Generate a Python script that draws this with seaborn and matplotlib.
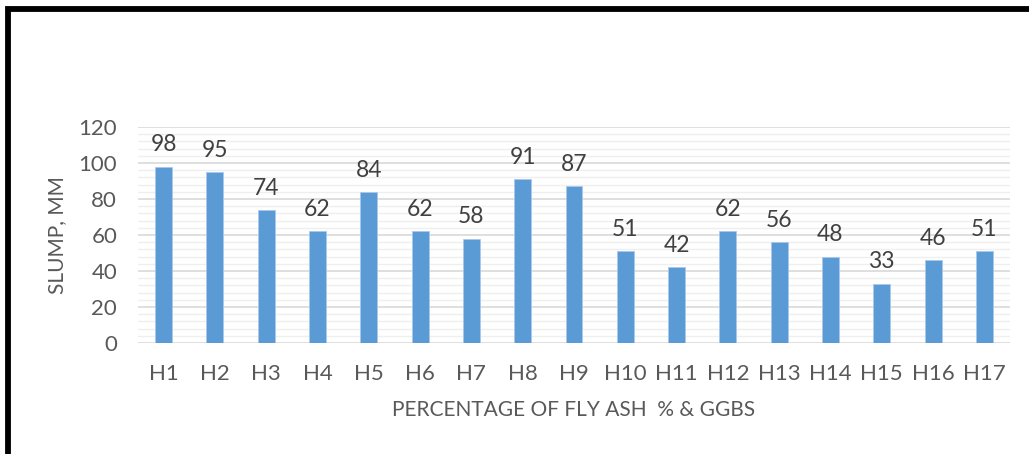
import matplotlib
matplotlib.use("Agg")
import matplotlib.pyplot as plt
from matplotlib.lines import Line2D
from matplotlib.ticker import MultipleLocator
import seaborn as sns
import pandas as pd

categories = ["H1", "H2", "H3", "H4", "H5", "H6", "H7", "H8", "H9",
              "H10", "H11", "H12", "H13", "H14", "H15", "H16", "H17"]
slump = [98, 95, 74, 62, 84, 62, 58, 91, 87, 51, 42, 62, 56, 48, 33, 46, 51]
y_ticks = [0, 20, 40, 60, 80, 100, 120]
x_title = "PERCENTAGE OF FLY ASH  % & GGBS"
y_title = "SLUMP, MM"

sns.set_theme(style="white")
plt.rcParams["font.family"] = ["Lato", "DejaVu Sans"]

df = pd.DataFrame({"cat": categories, "slump": slump})

fig = plt.figure(figsize=(10.29, 4.54), dpi=100)
ax = fig.add_axes([138 / 1029, 1 - 343 / 454, (1010 - 138) / 1029, (343 - 127) / 454])

sns.barplot(data=df, x="cat", y="slump", color="#5B9BD5", saturation=1,
            width=0.33, ax=ax, edgecolor="#a9c8ec", linewidth=0.6, zorder=3)

ax.set_ylim(0, 120)
ax.set_yticks(y_ticks)
ax.yaxis.set_minor_locator(MultipleLocator(4))
ax.grid(axis="y", which="major", color="#d9d9d9", linewidth=1.2, zorder=0)
ax.grid(axis="y", which="minor", color="#efefef", linewidth=1.0, zorder=0)
ax.grid(axis="x", which="both", visible=False)
ax.set_axisbelow(True)
for s in ax.spines.values():
    s.set_visible(False)
ax.tick_params(axis="both", which="both", length=0, labelsize=16, colors="#595959")
ax.tick_params(axis="x", pad=15)
ax.tick_params(axis="y", pad=15)
ax.set_xlim(-0.5, len(categories) - 0.5)

ax.set_xlabel(x_title, fontsize=15, color="#595959", labelpad=12)
ax.set_ylabel(y_title, fontsize=15, color="#595959",
              ha="center", va="center", rotation=90, rotation_mode="default")
ax.yaxis.set_label_coords((57 - 138) / 872, 0.5)

for cont in ax.containers:
    ax.bar_label(cont, labels=[str(v) for v in slump], padding=8,
                 fontsize=16.5, color="#404040")

# black frame lines (left and top)
fig.add_artist(Line2D([7.5 / 1029, 7.5 / 1029, 1.0], [0.0, 1 - 8.5 / 454, 1 - 8.5 / 454],
                      transform=fig.transFigure, color="black", linewidth=4.2,
                      solid_joinstyle="miter"))

fig.savefig("out.png", dpi=100)
